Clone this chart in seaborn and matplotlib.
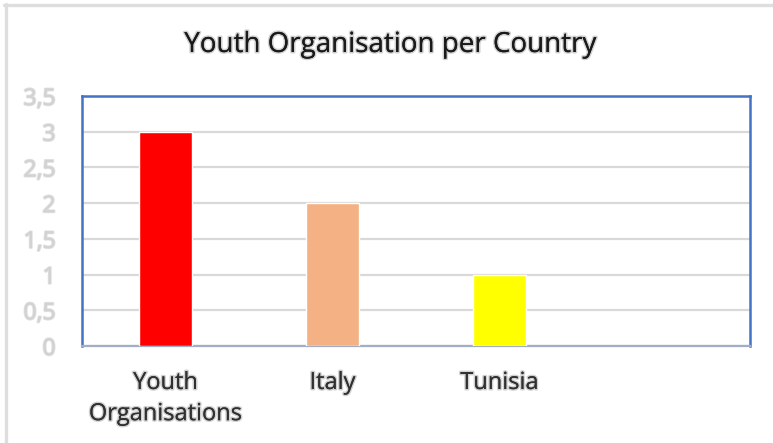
import matplotlib
matplotlib.use("Agg")
import matplotlib.pyplot as plt
import matplotlib.patheffects as pe
from matplotlib.lines import Line2D
from matplotlib.ticker import FuncFormatter, MultipleLocator
import seaborn as sns
import pandas as pd

categories = ["Youth\nOrganisations", "Italy", "Tunisia", " "]
values = [3, 2, 1, float("nan")]
colors = ["#ff0000", "#f4b183", "#ffff00", "#ffffff"]
title = "Youth Organisation per Country"

sns.set_theme(style="white")
plt.rcParams["font.family"] = ["Open Sans", "DejaVu Sans"]

W, H = 773, 443
fig = plt.figure(figsize=(W / 100, H / 100), dpi=100)
ax = fig.add_axes([82 / W, (H - 346) / H, 668 / W, 250 / H])

df = pd.DataFrame({"cat": categories, "val": values})
sns.barplot(data=df, x="cat", y="val", hue="cat", order=categories,
            hue_order=categories, palette=dict(zip(categories, colors)),
            width=0.32, legend=False, saturation=1, ax=ax, zorder=3)

ax.set_ylim(0, 3.5)
ax.set_xlim(-0.5, 3.5)
ax.yaxis.set_major_locator(MultipleLocator(0.5))
ax.yaxis.set_major_formatter(FuncFormatter(lambda v, p: ("%g" % v).replace(".", ",")))
ax.grid(axis="y", color="#d9d9d9", linewidth=1.6, zorder=0)
ax.set_axisbelow(True)
ax.set_xlabel("")
ax.set_ylabel("")

for s in ["left", "top", "right"]:
    ax.spines[s].set_color("#4472c4")
    ax.spines[s].set_linewidth(1.8)
    ax.spines[s].set_visible(True)
ax.spines["bottom"].set_color("#a3adc6")
ax.spines["bottom"].set_linewidth(1.6)
ax.spines["bottom"].set_visible(True)

ax.tick_params(axis="y", length=0, pad=19, labelsize=16.5, labelcolor="#d2d2d2")
ax.tick_params(axis="x", length=0, pad=18, labelsize=17, labelcolor="#303030")

shadow_dark = [pe.withStroke(linewidth=2.2, foreground="#d0d0d0"), pe.Normal()]
for t in ax.get_yticklabels():
    t.set_path_effects([pe.withStroke(linewidth=1.5, foreground="#e0e0e0"), pe.Normal()])
for t in ax.get_xticklabels():
    t.set_path_effects(shadow_dark)
    t.set_linespacing(1.4)

fig.text(390 / W, 1 - 45 / H, title, ha="center", va="center", fontsize=20,
         color="#1a1a1a", path_effects=shadow_dark)

fig.add_artist(Line2D([4 / W, 1], [1 - 5 / H, 1 - 5 / H], color="#dedede",
                      linewidth=2.4, transform=fig.transFigure))
fig.add_artist(Line2D([5.5 / W, 5.5 / W], [0, 1 - 4 / H], color="#dedede",
                      linewidth=2.4, transform=fig.transFigure))

fig.savefig("out.png", dpi=100)
